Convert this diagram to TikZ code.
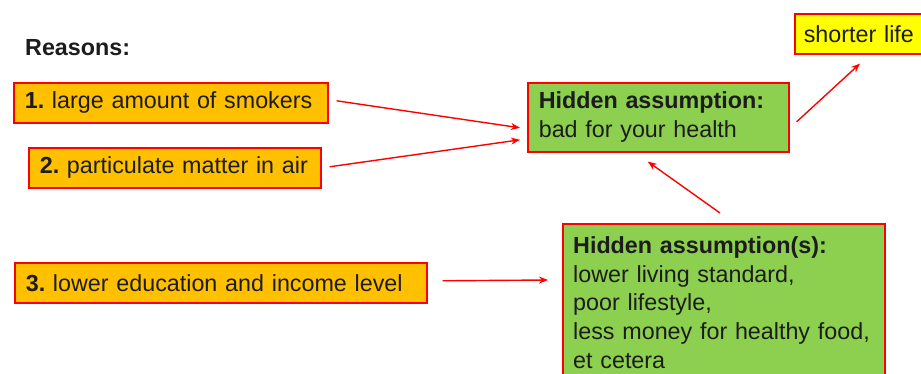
\documentclass[tikz,border=0pt]{standalone}
\usepackage{fontspec}
\setmainfont[WordSpace=0.85]{Liberation Sans}
\usetikzlibrary{arrows.meta}
\definecolor{orangefill}{HTML}{FFC000}
\definecolor{greenfill}{HTML}{8DCF4F}
\definecolor{yellowfill}{HTML}{FFFF00}
\definecolor{txt}{HTML}{1C1C1C}
\newcommand\fs{\fontsize{23.3}{28.7}\selectfont\frenchspacing}
\tikzset{
  box/.style={draw=red, line width=1.6pt, anchor=north west, inner xsep=11pt,
    inner ysep=0pt, align=left, font=\fs, text=txt},
  reason/.style={box, fill=orangefill, minimum height=40pt},
  arr/.style={draw=red, line width=1.4pt, -{Stealth[length=9pt,width=7pt]}}
}
\begin{document}
\begin{tikzpicture}[x=1pt,y=-1pt]
\useasboundingbox (0,0) rectangle (921,374);
\clip (0,0) rectangle (921,374);
\fill[white] (0,0) rectangle (921,374);
\node[anchor=west, inner sep=0pt, font=\fs\bfseries, text=txt] (rs) at (25,48) {Reasons:};
\node[reason, text width=292pt] (b1) at (13,82) {\mbox{\textbf{1.} large amount of smokers}};
\node[reason, text width=270pt] (b2) at (28,147) {\mbox{\textbf{2.} particulate matter in air}};
\node[reason, text width=390pt] (b3) at (14,262) {\mbox{\textbf{3.} lower education and income level}};
\node[box, fill=greenfill, minimum height=69pt, text width=239pt] (h1) at (527,82)
  {\textbf{Hidden assumption:}\\bad for your health};
\node[box, fill=yellowfill, minimum height=40pt, inner xsep=9pt, text width=150pt] (sl) at (794,13) {shorter life};
\node[box, fill=greenfill, inner ysep=8pt, text width=300pt, minimum height=200pt, anchor=north west] (h2) at (562,223) {};
\node[anchor=north west, align=left, font=\fs, text=txt, inner sep=0pt, text width=300pt] (h2t) at ([xshift=11pt,yshift=-13.5pt]h2.north west)
  {\textbf{Hidden assumption(s):}\\lower living standard,\\poor lifestyle,\\less money for healthy food,\\et cetera};
\draw[arr] ([xshift=8pt,yshift=2pt]b1.east) -- ([xshift=-7pt,yshift=-10.5pt]h1.west);
\draw[arr] ([xshift=8pt,yshift=1pt]b2.east) -- ([xshift=-7pt,yshift=-22.5pt]h1.west);
\draw[arr] ([xshift=7pt,yshift=-4.5pt]h1.east) -- ([xshift=66pt,yshift=-9pt]sl.south west);
\draw[arr] ([xshift=158pt,yshift=10pt]h2.north west) -- ([xshift=-10.5pt,yshift=-9pt]h1.south);
\draw[arr] ([xshift=15pt,yshift=2pt]b3.east) -- ([xshift=-14pt,yshift=-57pt]h2.north west);
\end{tikzpicture}
\end{document}
